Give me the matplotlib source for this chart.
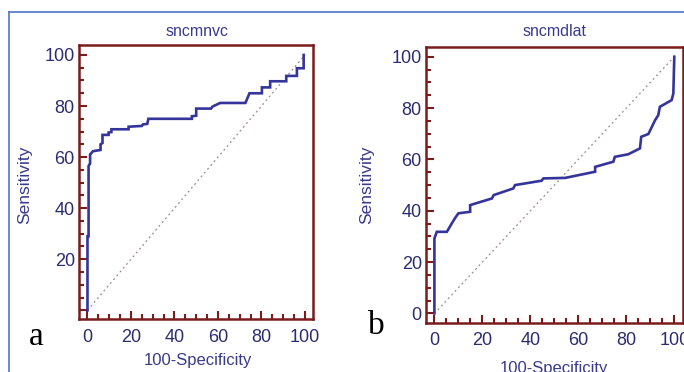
import matplotlib
matplotlib.use("Agg")
import matplotlib.pyplot as plt
from matplotlib.lines import Line2D
from matplotlib.ticker import MultipleLocator, FuncFormatter

# Panel a: sncmnvc ROC curve (100-Specificity, Sensitivity)
xa = [0, 0, 0.5, 0.5, 1.2, 1.2, 2.5, 6.0, 6.0, 6.9, 6.9, 9.7, 9.7, 11.0, 11.0,
      18.9, 18.9, 25.0, 25.5, 27.5, 28.0, 48.0, 48.0, 50.0, 50.0, 56.8, 57.5,
      61.0, 72.6, 74.5, 80.2, 80.2, 84.0, 84.0, 91.4, 91.4, 96.3, 96.3, 99.4, 99.4]
ya = [0, 29, 29, 56.5, 57.5, 61, 62.3, 62.8, 65, 65.5, 68.7, 68.7, 69.6, 69.8, 70.9,
      70.9, 71.9, 72.2, 72.8, 73, 75, 75, 76, 76.2, 79, 79, 79.8,
      81.2, 81.2, 85, 85, 87.3, 87.3, 89.7, 89.7, 91.8, 91.8, 94.8, 94.8, 100]

# Panel b: sncmdlat ROC curve
xb = [0, 0, 1.0, 5.2, 7.2, 8.5, 10.0, 14.9, 14.9, 24.0, 24.7, 32.9, 33.6, 44.7, 45.4,
      54.5, 67.0, 67.0, 74.6, 75.2, 80.8, 85.7, 86.2, 89.2, 92.0, 93.3, 94.0, 98.9, 99.6, 100]
yb = [0, 29.2, 31.8, 31.8, 35, 37, 39, 39.6, 42.2, 44.8, 46.1, 48.7, 50, 51.7, 52.6,
      52.8, 55.2, 57.1, 59.1, 61, 62, 64.3, 68.8, 69.9, 75.3, 77.2, 80.5, 83.1, 85.7, 100]

titles = ["sncmnvc", "sncmdlat"]
panel_letters = ["a", "b"]

plt.rcParams['font.family'] = ['Liberation Sans', 'DejaVu Sans']

W, H = 684, 372
fig = plt.figure(figsize=(W / 100, H / 100), dpi=100)

spine_c = "#7a1c1c"
curve_c = "#34349a"
text_c = "#2c2c70"
label_c = "#3a3a8c"
diag_c = "#a08888"


def fx(px):
    return px / W


def fy(py):
    return 1 - py / H


boxes = [
    (79, 45, 313, 319, (-3.9, 103.7), (-3.4, 103.9)),
    (426, 46.7, 682.7, 322.7, (-3.5, 103.5), (-3.6, 103.9)),
]
series = [(xa, ya), (xb, yb)]

for i, (l, t, r, b, xl, yl) in enumerate(boxes):
    ax = fig.add_axes([fx(l), fy(b), (r - l) / W, (b - t) / H])
    x, y = series[i]
    ax.plot([0, 100], [0, 100], color=diag_c, lw=0.9, ls=(0, (1.5, 2.5)))
    ax.plot(x, y, color=curve_c, lw=1.9, solid_joinstyle='miter')
    ax.set_xlim(*xl)
    ax.set_ylim(*yl)
    for s in ax.spines.values():
        s.set_color(spine_c)
        s.set_linewidth(1.8)
    ax.xaxis.set_major_locator(MultipleLocator(20))
    ax.yaxis.set_major_locator(MultipleLocator(20))
    ax.xaxis.set_minor_locator(MultipleLocator(5))
    ax.yaxis.set_minor_locator(MultipleLocator(5))
    ax.tick_params(which='both', direction='in', color=spine_c, width=1.5,
                   top=False, right=False)
    ax.tick_params(which='major', length=6)
    ax.tick_params(which='minor', length=3.5)
    ax.tick_params(axis='x', which='major', pad=7, labelsize=13, labelcolor=text_c)
    ax.tick_params(axis='y', which='major', pad=3, labelsize=13, labelcolor=text_c)
    if i == 0:
        ax.yaxis.set_major_formatter(FuncFormatter(lambda v, p: "" if abs(v) < 1e-9 else f"{v:.0f}"))
    else:
        ax.yaxis.set_major_formatter(FuncFormatter(lambda v, p: f"{v:.0f}"))
    ax.xaxis.set_major_formatter(FuncFormatter(lambda v, p: f"{v:.0f}"))

# titles
fig.text(fx(197), fy(32), titles[0], ha='center', va='center', fontsize=11.5, color=label_c)
fig.text(fx(555), fy(32), titles[1], ha='center', va='center', fontsize=11.5, color=label_c)
# y labels
fig.text(fx(25), fy(185), "Sensitivity", ha='center', va='center', rotation=90, fontsize=12.5, color=label_c)
fig.text(fx(367), fy(185), "Sensitivity", ha='center', va='center', rotation=90, fontsize=12.5, color=label_c)
# x labels
fig.text(fx(197.5), fy(361), "100-Specificity", ha='center', va='center', fontsize=12, color=label_c)
fig.text(fx(554), fy(368), "100-Specificity", ha='center', va='center', fontsize=12, color=label_c)
# panel letters
fig.text(fx(36), fy(337), panel_letters[0], ha='center', va='center', fontsize=24,
         family='Liberation Serif', color='black')
fig.text(fx(376), fy(326), panel_letters[1], ha='center', va='center', fontsize=24,
         family='Liberation Serif', color='black')

# blue frame
frame_c = "#4a78c8"
fig.add_artist(Line2D([fx(9), fx(9)], [fy(12), 0], color=frame_c, lw=1.2))
fig.add_artist(Line2D([fx(9), 1], [fy(12), fy(12)], color=frame_c, lw=1.2))

fig.savefig("out.png", dpi=100)
